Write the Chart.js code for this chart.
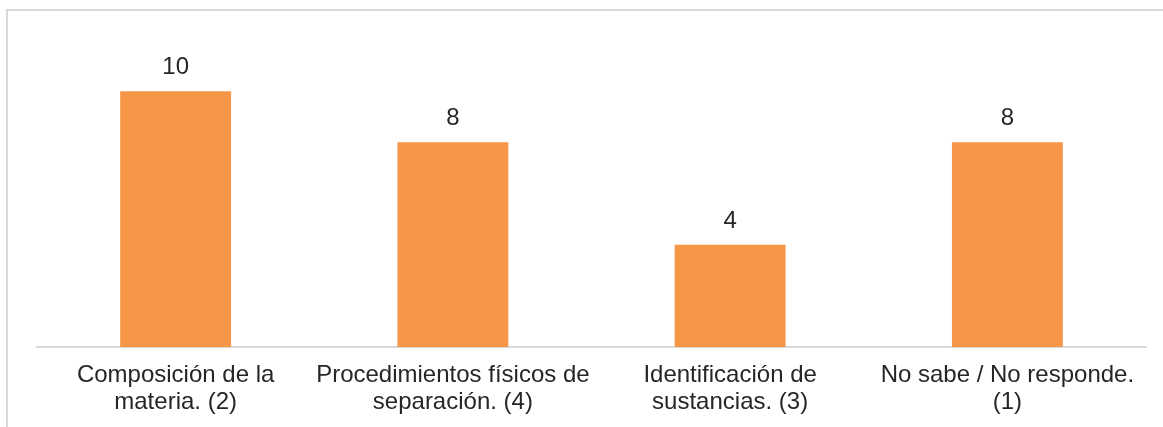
<!DOCTYPE html>
<html>
<head>
<meta charset="utf-8">
<script src="https://cdn.jsdelivr.net/npm/chart.js@4/dist/chart.umd.min.js"></script>
<style>
  html, body { margin: 0; padding: 0; background: #ffffff; overflow: hidden; }
  #wrap { position: relative; width: 1163px; height: 427px; }
  #frame { position: absolute; left: 6px; top: 9px; width: 1300px; height: 500px;
           border-left: 2px solid #d9d9d9; border-top: 2px solid #d9d9d9; }
  canvas { position: absolute; left: 0; top: 0; }
</style>
</head>
<body>
<div id="wrap">
  <div id="frame"></div>
  <canvas id="c" width="1163" height="427"></canvas>
</div>
<script>
const categories = [
  ["Composición de la", "materia. (2)"],
  ["Procedimientos físicos de", "separación. (4)"],
  ["Identificación de", "sustancias. (3)"],
  ["No sabe / No responde.", "(1)"]
];
const values = [10, 8, 4, 8];
const yMin = 0;
const yMax = 12;

const FONT = "'Liberation Sans', Arial, sans-serif";
const TEXT = "#262626";

const valueLabels = {
  id: 'valueLabels',
  afterDatasetsDraw(chart) {
    const ctx = chart.ctx;
    const meta = chart.getDatasetMeta(0);
    ctx.save();
    ctx.font = "24px " + FONT;
    ctx.fillStyle = TEXT;
    ctx.textAlign = 'center';
    ctx.textBaseline = 'alphabetic';
    meta.data.forEach((bar, i) => {
      ctx.fillText(String(chart.data.datasets[0].data[i]), bar.x, bar.y - 17);
    });
    ctx.restore();
  }
};

new Chart(document.getElementById('c'), {
  type: 'bar',
  data: {
    labels: categories,
    datasets: [{
      data: values,
      backgroundColor: '#F79646',
      borderWidth: 0,
      barPercentage: 1,
      categoryPercentage: 0.4
    }]
  },
  options: {
    responsive: false,
    animation: false,
    layout: { padding: { left: 37, right: 17, top: 40, bottom: 0 } },
    plugins: { legend: { display: false }, tooltip: { enabled: false } },
    scales: {
      x: {
        grid: { display: false, drawTicks: false },
        border: { display: true, color: '#d9d9d9', width: 2 },
        ticks: {
          color: TEXT,
          font: { family: FONT, size: 24, lineHeight: 1.125 },
          padding: 15,
          maxRotation: 0,
          minRotation: 0,
          autoSkip: false
        },
        afterFit(scale) { scale.height = 80; }
      },
      y: {
        display: false,
        min: yMin,
        max: yMax
      }
    }
  },
  plugins: [valueLabels]
});
</script>
</body>
</html>
